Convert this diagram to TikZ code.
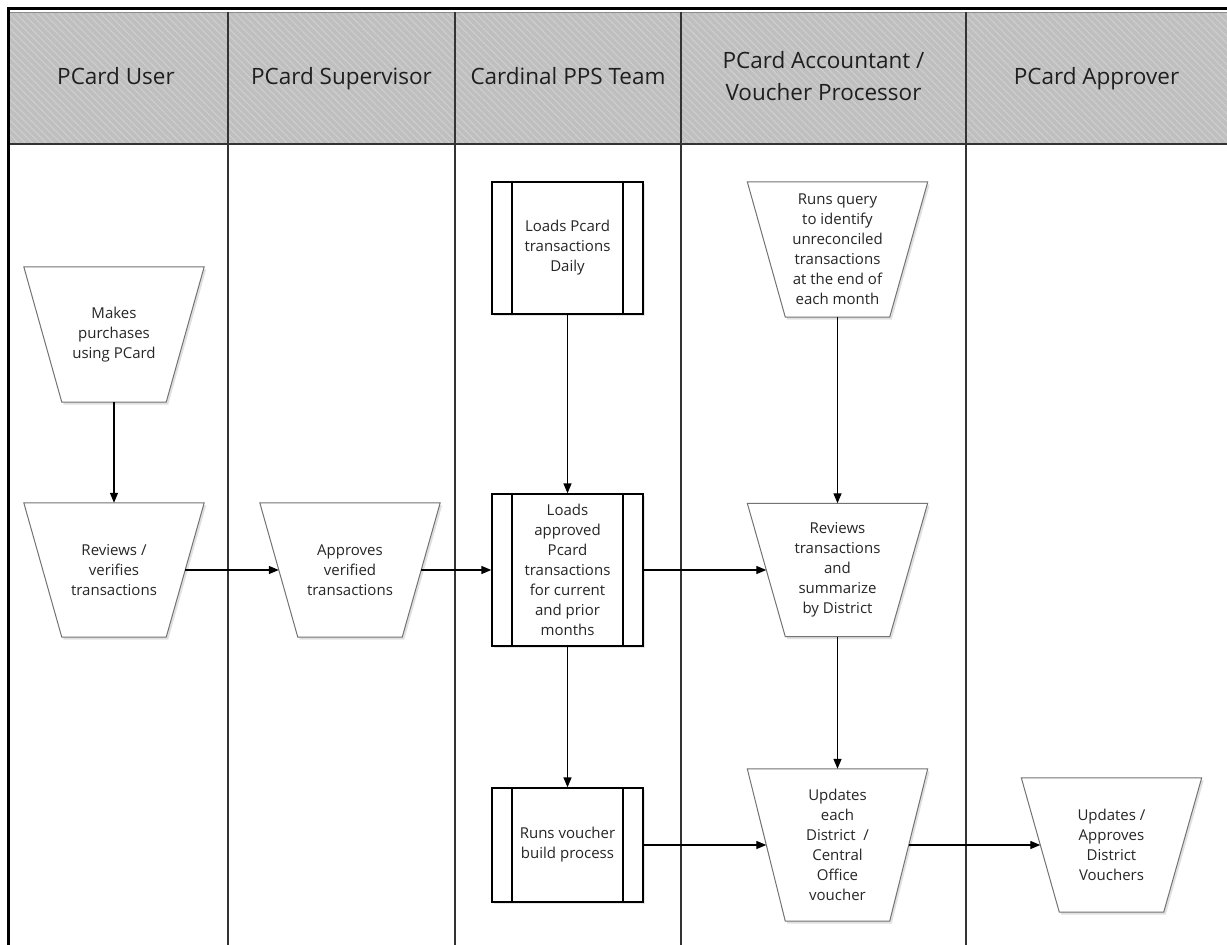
\documentclass[tikz,border=0pt]{standalone}
\usepackage{fontspec}
\setmainfont{Open Sans}
\usetikzlibrary{arrows.meta,patterns.meta,shadows}
\pgfdeclarelayer{bg}
\pgfsetlayers{bg,main}
\begin{document}
\begin{tikzpicture}[x=1pt,y=-1pt,
  lane/.style={draw=black!80, line width=1.1pt},
  hdr/.style={font=\fontsize{22.5}{32}\selectfont, text=black!88, align=center, inner sep=0pt, text height=16pt, text depth=5pt},
  txt/.style={font=\fontsize{15}{20}\selectfont, text=black!85, align=center, inner sep=0pt},
  trapnode/.style={txt, rectangle, minimum width=142pt},
  trapline/.style={draw=black!55, line width=1pt},
  procbox/.style={txt, rectangle, draw=black, line width=1.3pt, fill=white, minimum width=151pt,
    drop shadow={shadow xshift=2pt, shadow yshift=-2pt, opacity=0.2},
    path picture={
      \draw[line width=1.3pt] ([xshift=20pt]path picture bounding box.north west) -- ([xshift=20pt]path picture bounding box.south west);
      \draw[line width=1.3pt] ([xshift=-20pt]path picture bounding box.north east) -- ([xshift=-20pt]path picture bounding box.south east);}},
  flow/.style={-{Triangle[length=10pt,width=8pt]}, line width=1.3pt, black}
]
\useasboundingbox (0,0) rectangle (1227,945);

% header text
\node[hdr] (h1) at (116,79) {PCard User};
\node[hdr] (h2) at (341.5,79) {PCard Supervisor};
\node[hdr] (h3) at (568,79) {Cardinal PPS Team};
\node[hdr, text height=48pt] (h4) at (823.5,79) {PCard Accountant /\\Voucher Processor};
\node[hdr] (h5) at (1096.5,79) {PCard Approver};

% trapezoid steps (node = mid-height box)
\node[trapnode, minimum height=135pt] (make) at (114,334.5) {Makes\\purchases\\using PCard};
\node[trapnode, minimum height=134pt] (revv) at (114,570) {Reviews /\\verifies\\transactions};
\node[trapnode, minimum height=134pt] (appr) at (350,570) {Approves\\verified\\transactions};
\node[trapnode, minimum height=135pt] (query) at (837.5,249.5) {Runs query\\to identify\\unreconciled\\transactions\\at the end of\\each month};
\node[trapnode, minimum height=133pt] (revt) at (837.5,570) {Reviews\\transactions\\and\\summarize\\by District};
\node[trapnode, minimum height=152pt] (upd) at (837.5,845) {Updates\\each\\District~~/\\Central\\Office\\voucher};
\node[trapnode, minimum height=134pt] (upda) at (1111.5,845) {Updates /\\Approves\\District\\Vouchers};

% predefined process boxes
\node[procbox, minimum height=132pt] (loadD) at (567.5,248) {Loads Pcard\\transactions\\Daily};
\node[procbox, minimum height=152pt] (loadA) at (567.5,570) {Loads\\approved\\Pcard\\transactions\\for current\\and prior\\months};
\node[procbox, minimum height=114pt] (runv) at (567.5,845) {Runs voucher\\build process};

% trapezoid outlines
\foreach \n in {make,revv,appr,query,revt,upd,upda}{
  \draw[trapline] ([xshift=-19pt]\n.north west) -- ([xshift=19pt]\n.north east)
     -- ([xshift=-19pt]\n.south east) -- ([xshift=19pt]\n.south west) -- cycle;
}

\begin{pgfonlayer}{bg}
  \fill[black!25] (10,12) rectangle (1227,144);
  \fill[pattern={Lines[angle=-45,distance=5pt,line width=0.9pt]}, pattern color=black!18] (10,12) rectangle (1227,144);
  \draw[black!45, line width=0.8pt] (10,12) -- (1227,12);
  \draw[lane] (10,144) -- (1227,144);
  \foreach \xx in {228,455,681,966}{ \draw[lane] (\xx,12) -- (\xx,945); }
  \draw[black, line width=3pt] (8,945) -- (8,8) -- (1227,8);
  \foreach \n in {make,revv,appr,query,revt,upd,upda}{
    \fill[black!12, transform canvas={xshift=2pt,yshift=-2.5pt}] ([xshift=-19pt]\n.north west) -- ([xshift=19pt]\n.north east)
       -- ([xshift=-19pt]\n.south east) -- ([xshift=19pt]\n.south west) -- cycle;
    \fill[white] ([xshift=-19pt]\n.north west) -- ([xshift=19pt]\n.north east)
       -- ([xshift=-19pt]\n.south east) -- ([xshift=19pt]\n.south west) -- cycle;
  }
\end{pgfonlayer}

% connectors
\draw[flow] (make) -- (revv);
\draw[flow] (revv) -- (appr);
\draw[flow] (appr) -- (loadA);
\draw[flow] (loadD) -- (loadA);
\draw[flow] (loadA) -- (revt);
\draw[flow] (loadA) -- (runv);
\draw[flow] (query) -- (revt);
\draw[flow] (revt) -- (upd);
\draw[flow] (runv) -- (upd);
\draw[flow] (upd) -- (upda);
\end{tikzpicture}
\end{document}
